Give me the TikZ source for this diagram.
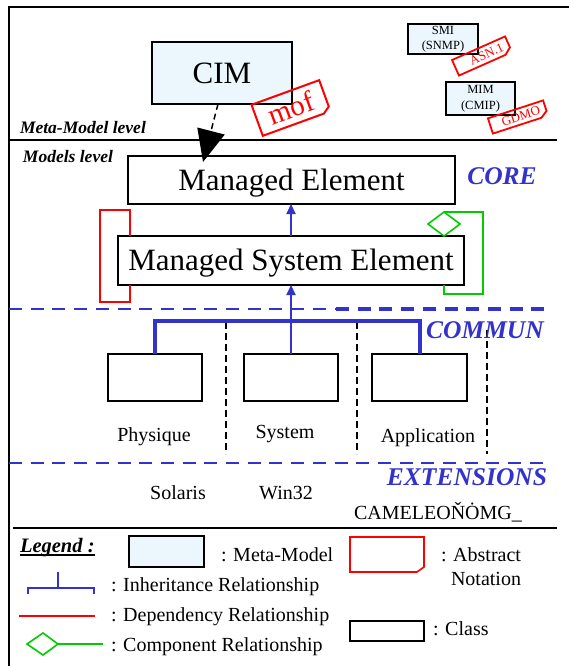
\documentclass[tikz,border=0pt]{standalone}
\usepackage{fontspec}
\setmainfont{Liberation Serif}
\usetikzlibrary{arrows.meta,calc}
\definecolor{myblue}{RGB}{51,51,204}
\definecolor{mygreen}{RGB}{0,204,0}
\definecolor{metablue}{RGB}{235,246,253}
\newcommand{\noteoutline}[2][]{%
  \draw[notepen,#1] (#2.north west) -- (#2.north east)
    -- ($(#2.south east)!5pt!(#2.north east)$)
    -- ($(#2.south east)!7pt!(#2.south west)$)
    -- (#2.south west) -- cycle;}
\begin{document}
\begin{tikzpicture}[x=1pt,y=-1pt,
  every node/.style={inner sep=0pt, outer sep=0pt},
  metabox/.style={draw=black, line width=1.4pt, fill=metablue},
  classbox/.style={draw=black, line width=1.3pt, fill=white},
  bigtxt/.style={font=\fontsize{31}{36}\selectfont, text height=20.5pt, text depth=0pt},
  smalltxt/.style={font=\fontsize{12.5}{15.5}\selectfont, align=center},
  notetxt/.style={font=\fontsize{13}{15}\selectfont, text=red},
  lvltxt/.style={font=\fontsize{17.5}{20}\selectfont\bfseries\itshape},
  bluetxt/.style={font=\fontsize{25.5}{30}\selectfont\bfseries\itshape, text=myblue},
  labtxt/.style={font=\fontsize{20}{24}\selectfont},
  inh/.style={draw=myblue, line width=2.2pt, -{Triangle[length=10pt,width=9pt]}},
  tree/.style={draw=myblue, line width=4pt, line join=miter},
  dep/.style={draw=red, line width=1.6pt},
  comp/.style={draw=mygreen, line width=1.6pt},
  notepen/.style={draw=red, line width=2pt, line join=miter},
  sepline/.style={line width=1.3pt},
  blued/.style={draw=myblue, line width=1.8pt, dash pattern=on 13pt off 8.7pt},
  blackd/.style={line width=1.2pt, dash pattern=on 7pt off 4pt},
]
\useasboundingbox (0,0) rectangle (569,666);

% frame and separators
\draw[line width=2.6pt] (9,666) -- (9,7) -- (569,7);
\draw[sepline] (9,140) -- (557,140);
\draw[sepline] (13,528) -- (557,528);
\draw[blued] (9,309) -- (336,309);
\draw[blued, line width=4pt] (336,309) -- (550,309);
\draw[blued] (9,463) -- (550,463);
\draw[blackd] (226,322) -- (226,454);
\draw[blackd] (357,322) -- (357,454);
\draw[blackd] (487,330) -- (487,454);

% meta-model level
\node[metabox, minimum width=140pt, minimum height=62pt, bigtxt] (cim) at (222,73) {CIM};
\node[minimum width=72pt, minimum height=33pt, rotate=20, font=\fontsize{29}{32}\selectfont, text=red] (mof) at (291,108) {mof};
\noteoutline{mof}
\node[metabox, minimum width=70pt, minimum height=30pt, smalltxt] (smi) at (443,39) {SMI\\(SNMP)};
\node[minimum width=58pt, minimum height=17pt, rotate=24, notetxt] (asn) at (482,56) {\hspace*{10pt}ASN.1};
\noteoutline[line width=1.8pt]{asn}
\node[metabox, minimum width=69pt, minimum height=33pt, smalltxt] (mim) at (480.5,98.5) {MIM\\(CMIP)};
\node[minimum width=58pt, minimum height=16pt, rotate=18, notetxt] (gdmo) at (518,117) {\hspace*{6pt}GDMO};
\noteoutline[line width=1.8pt]{gdmo}

\node[lvltxt, anchor=base west] (mml) at (20,133) {Meta-Model level};
\node[lvltxt, anchor=base west] (ml) at (23,162) {Models level};

% core
\node[classbox, minimum width=327pt, minimum height=48pt, bigtxt] (me) at (291.5,180) {Managed Element};
\node[classbox, minimum width=346pt, minimum height=49pt, bigtxt] (mse) at (291,260.5) {Managed System Element};
\node[bluetxt] (core) at (502,176) {CORE};
\node[bluetxt] (commun) at (485,330) {COMMUN};
\node[bluetxt] (ext) at (467,477) {EXTENSIONS};

\coordinate (cimout) at (218,104);
\coordinate (metip) at (203,162);
\draw[line width=1.5pt, dash pattern=on 6pt off 4pt, -{Triangle[length=32pt,width=28pt]}] (cimout) -- (metip);

\draw[inh] (mse.north) -- (mse.north |- me.south);
\draw[dep] ([xshift=12pt]mse.north west) -- ++(0,-26) -- ++(-30,0) -- ++(0,92) -- ++(30,0) -- ([xshift=12pt]mse.south west);
\draw[comp] ([xshift=-20pt]mse.south east) -- ++(0,9) -- ++(39,0) -- ++(0,-82) -- ++(-39,0);
\draw[comp] ([xshift=-20pt]mse.north east) -- ++(16,-12) -- ++(-16,-12) -- ++(-16,12) -- cycle;

% commun
\node[classbox, minimum width=94pt, minimum height=47pt] (phys) at (155,377.5) {};
\node[classbox, minimum width=94pt, minimum height=47pt] (sys) at (291,377.5) {};
\node[classbox, minimum width=95pt, minimum height=47pt] (appl) at (419.5,377.5) {};
\coordinate (ty) at (0,321);
\draw[tree] (phys.north) -- (phys.north |- ty) -- (appl.north |- ty) -- (appl.north);
\draw[inh] (sys.north) -- (mse.south);

\node[labtxt, anchor=base] (lphys) at (154,441) {Physique};
\node[labtxt, anchor=base] (lsys) at (285,438) {System};
\node[labtxt, anchor=base] (lappl) at (428,442) {Application};
\node[labtxt, anchor=base] (lsol) at (178,499) {Solaris};
\node[labtxt, anchor=base] (lwin) at (286,499) {Win32};
\node[labtxt, anchor=base] (lcam) at (438,519) {CAMELEOŇȮMG\_};

% legend
\node[font=\fontsize{20.5}{24}\selectfont\bfseries\itshape, anchor=base west] (leg) at (20,552) {Legend :};
\draw[line width=1.5pt] ([yshift=-3pt]leg.base west) -- ([yshift=-3pt]leg.base east);
\node[metabox, minimum width=75pt, minimum height=31pt] (legmeta) at (166.5,551.5) {};
\node[labtxt, anchor=base west] (tmeta) at (221,561) {: Meta-Model};
\draw[draw=myblue, line width=1.5pt] (58,572) -- (58,588);
\draw[draw=myblue, line width=1.5pt] (28,594) -- (28,588) -- (94,588) -- (94,594);
\node[labtxt, anchor=base west] (tinh) at (111,591) {: Inheritance Relationship};
\draw[dep] (19,616) -- (95,616);
\node[labtxt, anchor=base west] (tdep) at (111,621) {: Dependency Relationship};
\draw[comp] (27,644) -- (43,633) -- (58,644) -- (43,655) -- cycle;
\draw[comp] (58,644) -- (103,644);
\node[labtxt, anchor=base west] (tcomp) at (111,651) {: Component Relationship};
\node[minimum width=74pt, minimum height=35pt] (legnote) at (387,554.5) {};
\noteoutline[line width=1.6pt]{legnote}
\node[labtxt, anchor=base west] (tabs) at (441,561) {: Abstract};
\node[labtxt, anchor=base west] (tnot) at (451,585) {Notation};
\node[classbox, minimum width=74pt, minimum height=20pt] (legclass) at (387,631) {};
\node[labtxt, anchor=base west] (tclass) at (433,635) {: Class};
\end{tikzpicture}
\end{document}
